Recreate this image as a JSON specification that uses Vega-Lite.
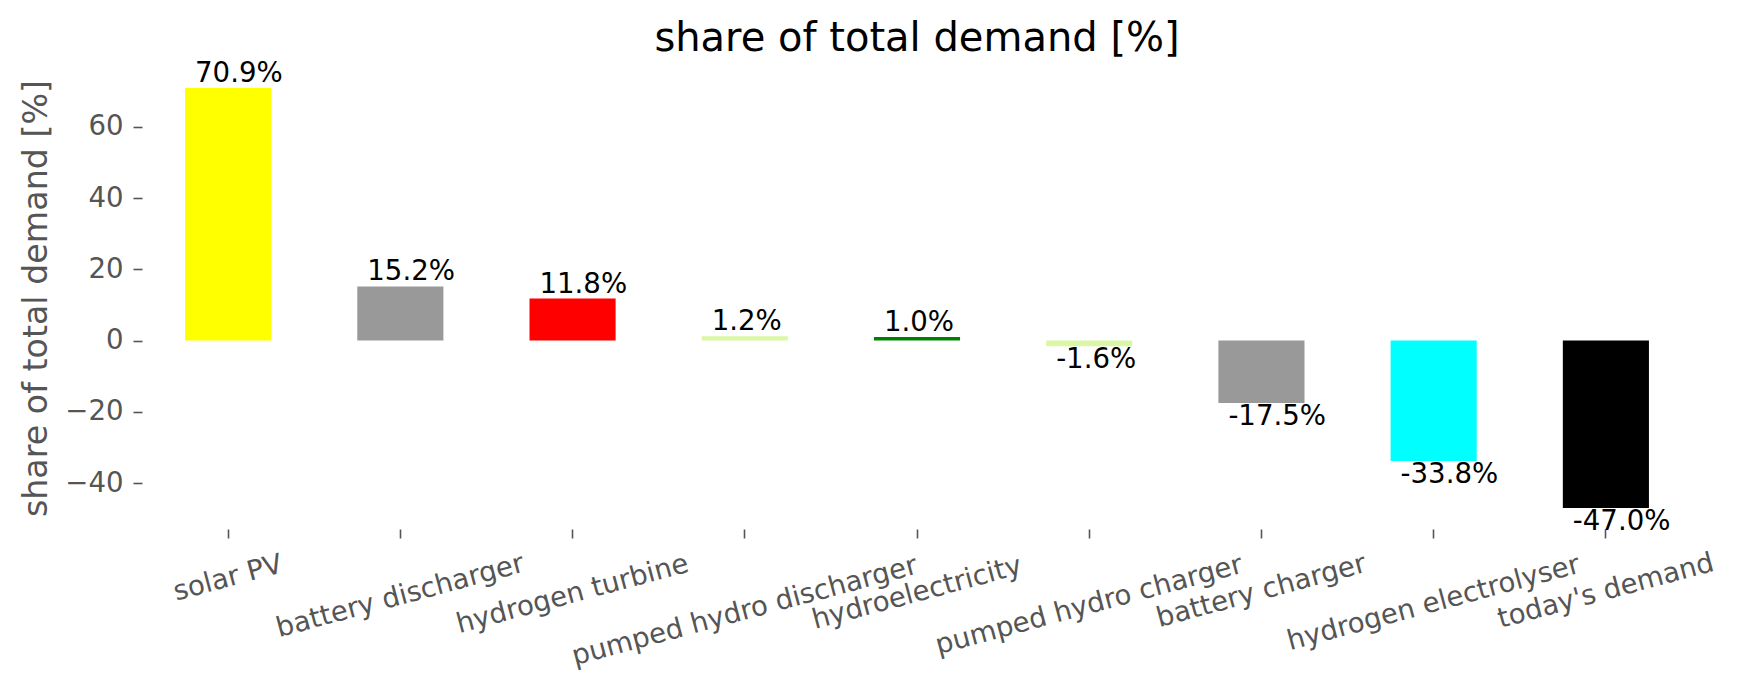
{
  "$schema": "https://vega.github.io/schema/vega-lite/v6.json",
  "width": 1550,
  "height": 462,
  "autosize": {"type": "none"},
  "padding": {"left": 142, "top": 67, "right": 45, "bottom": 160},
  "background": "white",
  "config": {"view": {"stroke": null}, "font": "DejaVu Sans"},
  "title": {
    "text": "share of total demand [%]",
    "fontSize": 40,
    "fontWeight": "normal",
    "color": "black",
    "font": "DejaVu Sans",
    "baseline": "alphabetic",
    "offset": 10,
    "dy": 41
  },
  "data": {
    "values": [
      {"tech": "solar PV", "share": 70.9, "label": "70.9%"},
      {"tech": "battery discharger", "share": 15.2, "label": "15.2%"},
      {"tech": "hydrogen turbine", "share": 11.8, "label": "11.8%"},
      {"tech": "pumped hydro discharger", "share": 1.2, "label": "1.2%"},
      {"tech": "hydroelectricity", "share": 1.0, "label": "1.0%"},
      {"tech": "pumped hydro charger", "share": -1.6, "label": "-1.6%"},
      {"tech": "battery charger", "share": -17.5, "label": "-17.5%"},
      {"tech": "hydrogen electrolyser", "share": -33.8, "label": "-33.8%"},
      {"tech": "today's demand", "share": -47.0, "label": "-47.0%"}
    ]
  },
  "encoding": {
    "x": {
      "field": "tech",
      "type": "nominal",
      "sort": null,
      "scale": {"paddingInner": 0, "paddingOuter": 0},
      "axis": {
        "title": null,
        "labelAngle": -15,
        "labelAlign": "center",
        "labelBaseline": "middle",
        "labelFontSize": 27.6,
        "labelFont": "DejaVu Sans",
        "labelColor": "#555555",
        "labelOverlap": false,
        "labelLimit": 0,
        "domain": false,
        "grid": false,
        "ticks": true,
        "tickSize": 9,
        "tickWidth": 1.6,
        "tickColor": "#555555",
        "labelPadding": {
          "condition": [
            {"test": "datum.value === 'solar PV'", "value": 40},
            {"test": "datum.value === 'battery discharger'", "value": 58},
            {"test": "datum.value === 'hydrogen turbine'", "value": 56},
            {"test": "datum.value === 'pumped hydro discharger'", "value": 73},
            {"test": "datum.value === 'hydroelectricity'", "value": 55},
            {"test": "datum.value === 'pumped hydro charger'", "value": 67},
            {"test": "datum.value === 'battery charger'", "value": 53},
            {"test": "datum.value === 'hydrogen electrolyser'", "value": 65}
          ],
          "value": 53
        }
      }
    }
  },
  "layer": [
    {
      "mark": {"type": "bar", "width": {"band": 0.5}},
      "encoding": {
        "y": {
          "field": "share",
          "type": "quantitative",
          "scale": {"domain": [-52.9, 76.8], "nice": false, "zero": false},
          "axis": {
            "title": "share of total demand [%]",
            "titleFontSize": 33.3,
            "titleFont": "DejaVu Sans",
            "titleFontWeight": "normal",
            "titleColor": "#555555",
            "titlePadding": 11,
            "values": [-40, -20, 0, 20, 40, 60],
            "labelFontSize": 27.6,
            "labelFont": "DejaVu Sans",
            "labelColor": "#555555",
            "labelPadding": 10,
            "domain": false,
            "grid": false,
            "tickSize": 9,
            "tickWidth": 1.6,
            "tickColor": "#555555"
          }
        },
        "y2": {"datum": 0},
        "color": {
          "field": "tech",
          "type": "nominal",
          "legend": null,
          "scale": {
            "domain": ["solar PV", "battery discharger", "hydrogen turbine", "pumped hydro discharger", "hydroelectricity", "pumped hydro charger", "battery charger", "hydrogen electrolyser", "today's demand"],
            "range": ["#ffff00", "#999999", "#ff0000", "#d9f7a5", "#008000", "#d9f7a5", "#999999", "#00ffff", "#000000"]
          }
        }
      }
    },
    {
      "transform": [{"filter": "datum.share >= 0"}],
      "mark": {"type": "text", "align": "left", "baseline": "bottom", "fontSize": 27.6, "font": "DejaVu Sans", "color": "black"},
      "encoding": {
        "x": {"field": "tech", "type": "nominal", "sort": null, "bandPosition": 0.308},
        "y": {"field": "share", "type": "quantitative"},
        "text": {"field": "label"}
      }
    },
    {
      "transform": [{"filter": "datum.share < 0"}],
      "mark": {"type": "text", "align": "left", "baseline": "top", "fontSize": 27.6, "font": "DejaVu Sans", "color": "black"},
      "encoding": {
        "x": {"field": "tech", "type": "nominal", "sort": null, "bandPosition": 0.308},
        "y": {"field": "share", "type": "quantitative"},
        "text": {"field": "label"}
      }
    }
  ]
}
